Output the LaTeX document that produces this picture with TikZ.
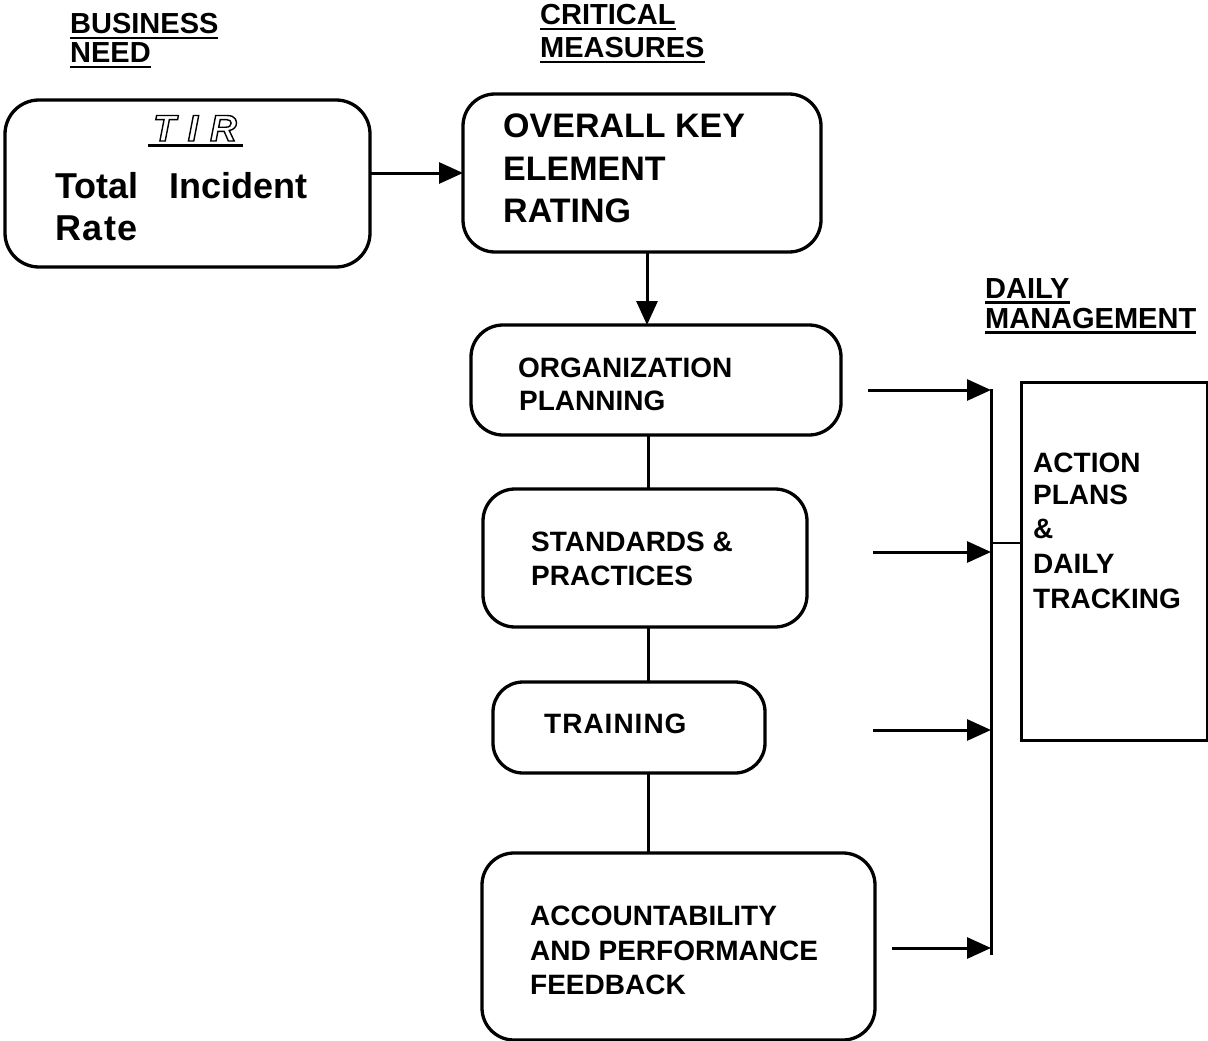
\documentclass[tikz,border=0pt]{standalone}
\usepackage{fontspec}
\setmainfont{Liberation Sans}
\usetikzlibrary{arrows.meta}
\newcommand\hul[1]{\setbox0\hbox{#1}\rlap{\rule[-5.5pt]{\wd0}{2.8pt}}\box0}
\newcommand\outl[1]{\special{pdf:literal 1 Tr 1.4 w}#1\special{pdf:literal 0 Tr}}
\begin{document}
\begin{tikzpicture}[x=1pt,y=-1pt,
  box/.style={draw, line width=3.3pt, rounded corners=#1, inner sep=0, outer sep=0},
  box/.default=32pt,
  sqbox/.style={draw, line width=3pt, inner sep=0, outer sep=0},
  conn/.style={line width=3pt},
  thin conn/.style={line width=2.3pt},
  arr/.style={line width=3pt, -{Triangle[length=24pt,width=21pt]}},
  txt/.style={inner sep=0, anchor=base west, font=\bfseries\fontsize{28}{34}\selectfont},
  bigtxt/.style={inner sep=0, anchor=base west, font=\bfseries\fontsize{34}{40}\selectfont},
  hugetxt/.style={inner sep=0, anchor=base west, font=\bfseries\fontsize{36}{42}\selectfont},
  hd/.style={inner sep=0, anchor=base west, font=\bfseries\fontsize{29}{34}\selectfont}]
\useasboundingbox (0,0) rectangle (1208,1041);

% headings
\node[hd] (bn1) at (70,34) {\hul{BUSINESS}};
\node[hd] (bn2) at (70,63) {\hul{NEED}};
\node[hd] (cm1) at (540,25) {\hul{CRITICAL}};
\node[hd] (cm2) at (540,58) {\hul{MEASURES}};
\node[hd] (dm1) at (985,298) {\hul{DAILY}};
\node[hd] (dm2) at (985,328) {\hul{MANAGEMENT}};

% boxes
\node[box=34pt, minimum width=365, minimum height=167] (tir) at (187.5,183.5) {};
\node[box=32pt, minimum width=358, minimum height=158] (ovr) at (642,173) {};
\node[box=32pt, minimum width=370, minimum height=110] (org) at (656,380) {};
\node[box=32pt, minimum width=324, minimum height=138] (std) at (645,558) {};
\node[box=30pt, minimum width=272, minimum height=91] (trn) at (629,727.5) {};
\node[box=32pt, minimum width=393, minimum height=187] (acc) at (678.5,946.5) {};
\node[sqbox, minimum width=186, minimum height=358] (act) at (1114,561) {};

% texts
\node[hugetxt] (t2) at (55,198) {Total\hspace{31pt}Incident};
\node[hugetxt] (t3) at (55,240) {R\hspace{1.5pt}a\hspace{1.5pt}t\hspace{1.5pt}e};
\node[bigtxt] (o1) at (503,137) {OVERALL KEY};
\node[bigtxt] (o2) at (503,180) {ELEMENT};
\node[bigtxt] (o3) at (503,222) {RATING};
\node[txt] (g1) at (518,377) {ORGANIZATION};
\node[txt] (g2) at (519,410) {PLANNING};
\node[txt] (s1t) at (531,551) {STANDARDS \&};
\node[txt] (s2t) at (531,585) {PRACTICES};
\node[txt] (tr1) at (544,733) {T\hspace{1pt}R\hspace{1pt}A\hspace{1pt}I\hspace{1pt}N\hspace{1pt}I\hspace{1pt}N\hspace{1pt}G};
\node[txt] (a1) at (530,925) {ACCOUNTABILITY};
\node[txt] (a2) at (530,960) {AND PERFORMANCE};
\node[txt] (a3) at (530,994) {FEEDBACK};
\node[txt] (p1) at (1033,472) {ACTION};
\node[txt] (p2) at (1033,504) {PLANS};
\node[txt] (p3) at (1033,538) {\&};
\node[txt] (p4) at (1033,573) {DAILY};
\node[txt] (p5) at (1033,608) {TRACKING};

% connectors
\coordinate (spine) at (648,0);
\draw[arr] (tir.east |- ovr.west) -- (ovr.west);
\draw[arr] (ovr.south -| 647,0) -- (org.north -| 647,0);
\draw[conn] (org.south -| spine) -- (std.north -| spine);
\draw[conn] (std.south -| spine) -- (trn.north -| spine);
\draw[conn] (trn.south -| spine) -- (acc.north -| spine);

\coordinate (bustop) at (991,389);
\coordinate (busbot) at (991,955);
\coordinate (e1) at (868,390);
\coordinate (e2) at (873,552);
\coordinate (e3) at (873,730);
\coordinate (e4) at (892,948);
\coordinate (bj) at (991,543);
\draw[conn] (bustop) -- (busbot);
\draw[arr] (e1) -- (e1 -| bustop);
\draw[arr] (e2) -- (e2 -| bustop);
\draw[arr] (e3) -- (e3 -| bustop);
\draw[arr] (e4) -- (e4 -| bustop);
\draw[thin conn] (bj) -- (bj -| act.west);

% TIR title
\draw[line width=3pt] (148,145.5) -- (243,145.5);
\node[inner sep=0, anchor=base, font=\bfseries\itshape\fontsize{37}{40}\selectfont] (tt) at (195,141) {\outl{T\hspace{12pt}I\hspace{12pt}R}};
\end{tikzpicture}
\end{document}
